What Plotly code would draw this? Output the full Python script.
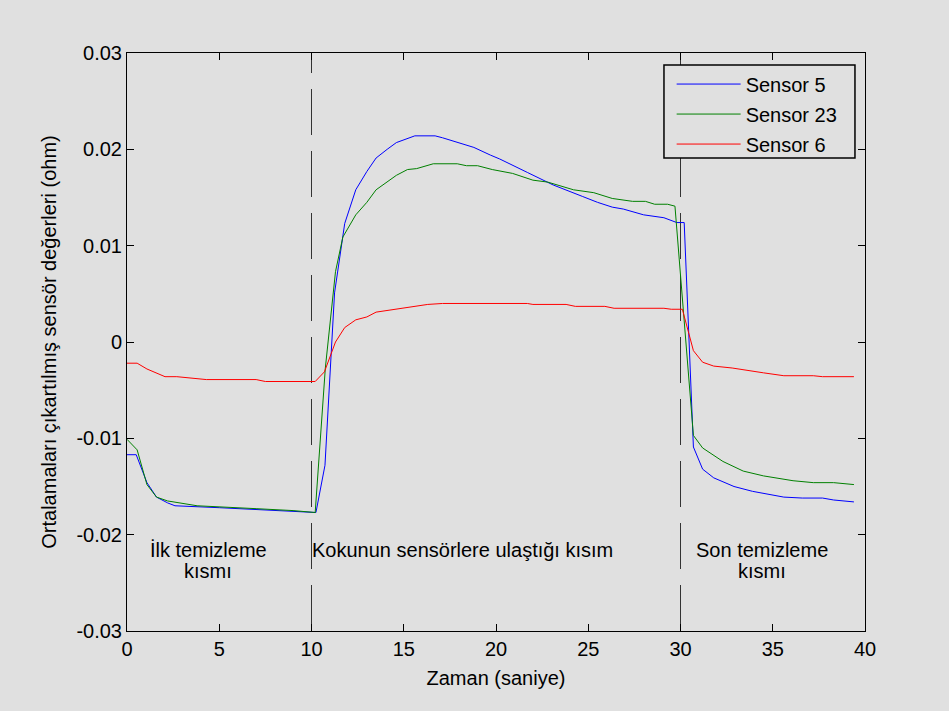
import plotly.graph_objects as go

# ---- data ----
t_s5 = [0, 0.5, 1.08, 1.6, 2.2, 2.6, 5.0, 8.0, 10.24, 10.73, 11.25, 11.8, 12.4, 13.0, 13.5, 14.1, 14.6, 15.6,
        16.7, 17.1, 17.9, 18.8, 19.7, 20.2, 21.7, 23.1, 24.7, 25.5, 26.3, 26.9, 28.0, 29.1, 29.8, 30.2,
        30.7, 31.2, 31.8, 32.3, 32.9, 33.9, 35.6, 36.6, 37.7, 38.3, 39.4]
v_s5 = [-0.0117, -0.0117, -0.0146, -0.0161, -0.0167, -0.0170, -0.0172, -0.0175, -0.0177, -0.0128, 0.0051, 0.0123,
        0.0158, 0.0177, 0.0191, 0.0200, 0.0207, 0.0214, 0.0214, 0.0212, 0.0207, 0.0202, 0.0194, 0.0190, 0.0176,
        0.0163, 0.0151, 0.0145, 0.0140, 0.0138, 0.0132, 0.0129, 0.0124, 0.0124,
        -0.0109, -0.0132, -0.0141, -0.0145, -0.0150, -0.0155, -0.0161, -0.0162, -0.0162, -0.0164, -0.0166]

t_s23 = [0, 0.55, 1.08, 1.6, 2.2, 3.8, 7.0, 9.0, 10.2, 10.75, 11.3, 11.7, 12.4, 13.0, 13.5, 14.1, 14.6, 15.2,
         15.7, 16.6, 17.9, 18.4, 19.0, 19.8, 20.9, 22.0, 22.8, 24.2, 25.3, 26.3, 27.4, 28.1, 28.6, 29.3, 29.7,
         30.7, 31.2, 32.3, 33.4, 34.5, 36.1, 37.2, 38.3, 39.4]
v_s23 = [-0.0101, -0.0112, -0.0148, -0.0161, -0.0165, -0.0170, -0.0173, -0.0175, -0.0177, -0.0027, 0.0073, 0.0109,
         0.0132, 0.0145, 0.0158, 0.0166, 0.0173, 0.0179, 0.0180, 0.0185, 0.0185, 0.0183, 0.0183, 0.0179, 0.0175,
         0.0168, 0.0166, 0.0158, 0.0155, 0.0149, 0.0146, 0.0146, 0.0143, 0.0143, 0.0141,
         -0.0097, -0.0110, -0.0124, -0.0134, -0.0139, -0.0144, -0.0146, -0.0146, -0.0148]

t_s6 = [0, 0.55, 1.08, 2.06, 2.7, 3.8, 4.3, 7.0, 7.5, 10.2, 10.7, 11.3, 11.8, 12.4, 13.0, 13.5, 14.6, 16.3, 17.1,
        21.7, 22.0, 23.8, 24.3, 25.9, 26.4, 29.1, 29.5, 30.1, 30.7, 31.2, 31.8, 32.8, 34.5, 35.6, 37.2, 37.7, 39.4]
v_s6 = [-0.0022, -0.0022, -0.0028, -0.0036, -0.0036, -0.0038, -0.0039, -0.0039, -0.0041, -0.0041, -0.0031, 0.0000,
        0.0015, 0.0023, 0.0026, 0.0031, 0.0034, 0.0039, 0.0040, 0.0040, 0.0039, 0.0039, 0.0037, 0.0037, 0.0035,
        0.0035, 0.0034, 0.0034, -0.0009, -0.0021, -0.0025, -0.0027, -0.0032, -0.0035, -0.0035, -0.0036, -0.0036]

series_names = ["Sensor 5", "Sensor 23", "Sensor 6"]
series_colors = ["#0000ff", "#008000", "#ff0000"]

phase_bounds = [10, 30]
# phase label lines: (x centre, y, text)
phase_label_x = [4.4, 4.4, 18.2, 34.4, 34.4]
phase_label_y = [-0.0216, -0.0238, -0.0216, -0.0216, -0.0238]
phase_label_text = ["İlk temizleme", "kısmı", "Kokunun sensörlere ulaştığı kısım", "Son temizleme", "kısmı"]

x_ticks = [0, 5, 10, 15, 20, 25, 30, 35, 40]
y_ticks = [-0.03, -0.02, -0.01, 0, 0.01, 0.02, 0.03]
y_ticktext = ["-0.03", "-0.02", "-0.01", "0", "0.01", "0.02", "0.03"]

BG = "#e0e0e0"
FONT = "Liberation Sans, Arial, sans-serif"
FS = 20

fig = go.Figure()
for i, (tx, vy, nm, col) in enumerate(zip([t_s5, t_s23, t_s6], [v_s5, v_s23, v_s6], series_names, series_colors)):
    fig.add_trace(go.Scatter(x=tx, y=vy, mode="lines", name=nm, legendgroup=f"g{i}",
                             line=dict(color=col, width=1)))

for xb in phase_bounds:
    fig.add_shape(type="line", x0=xb, x1=xb, y0=-0.03, y1=0.03, xref="x", yref="y",
                  line=dict(color="#333333", width=1, dash="46px,16px"), layer="below")

for lx, ly, lt in zip(phase_label_x, phase_label_y, phase_label_text):
    fig.add_annotation(x=lx, y=ly, text=lt, showarrow=False, xref="x", yref="y",
                       yanchor="middle", font=dict(size=FS, color="black", family=FONT))

# legend frame
fig.add_shape(type="rect", xref="paper", yref="paper", x0=0.7276, x1=0.9864, y0=0.8183, y1=0.9792,
              line=dict(color="black", width=1.5), fillcolor=BG, layer="above")

axis_common = dict(showgrid=False, zeroline=False, showline=True, linecolor="black", linewidth=1,
                   mirror="ticks", ticks="inside", ticklen=7, tickcolor="black",
                   tickfont=dict(size=FS, color="black", family=FONT))

fig.update_xaxes(range=[0, 40], tickvals=x_ticks, ticktext=[str(v) for v in x_ticks],
                 title=dict(text="Zaman (saniye)", font=dict(size=FS, color="black", family=FONT), standoff=11),
                 **axis_common)
fig.update_yaxes(range=[-0.03, 0.03], tickvals=y_ticks, ticktext=y_ticktext,
                 title=dict(text="Ortalamaları çıkartılmış sensör değerleri (ohm)",
                            font=dict(size=FS, color="black", family=FONT), standoff=14),
                 **axis_common)

fig.update_layout(
    width=949, height=711,
    margin=dict(l=127, r=84, t=53, b=80),
    paper_bgcolor=BG, plot_bgcolor=BG,
    font=dict(family=FONT, size=FS, color="black"),
    showlegend=True,
    legend=dict(x=0.738, y=0.98, xanchor="left", yanchor="top",
                bgcolor="rgba(0,0,0,0)", borderwidth=0,
                font=dict(size=FS, color="black", family=FONT),
                tracegroupgap=1, itemwidth=64),
)

fig.write_html("out.html", config={"displayModeBar": False},
               post_script="document.body.style.margin='0px';document.body.style.overflow='hidden';")
